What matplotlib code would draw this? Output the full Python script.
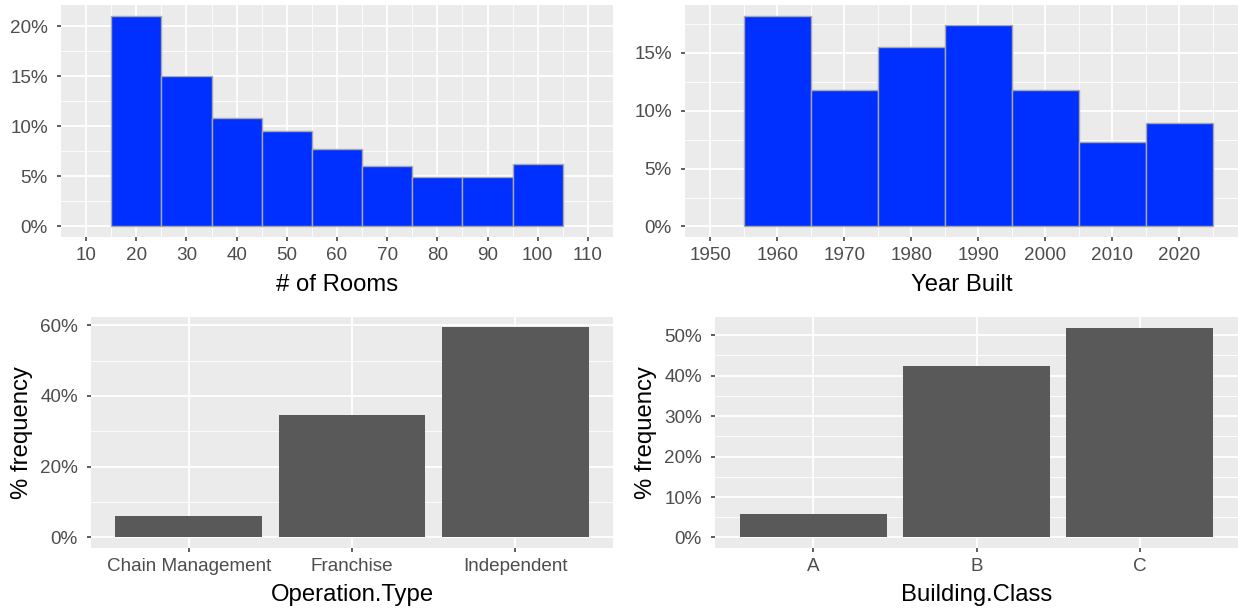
import matplotlib
matplotlib.use("Agg")
import matplotlib.pyplot as plt
from matplotlib.ticker import PercentFormatter, MultipleLocator, FixedLocator

plt.rcParams['font.family'] = ['Liberation Sans', 'DejaVu Sans']

# ---- data (percent of properties) ----
rooms_centers = [20, 30, 40, 50, 60, 70, 80, 90, 100]
rooms_pct = [21.0, 15.0, 10.8, 9.5, 7.7, 6.0, 4.9, 4.9, 6.2]

year_centers = [1960, 1970, 1980, 1990, 2000, 2010, 2020]
year_pct = [18.2, 11.8, 15.5, 17.4, 11.8, 7.3, 8.9]

op_types = ["Chain Management", "Franchise", "Independent"]
op_pct = [6.0, 34.6, 59.4]

bld_classes = ["A", "B", "C"]
bld_pct = [5.7, 42.4, 51.9]

# ---- style ----
PANEL = "#EBEBEB"
BLUE = "#0030FF"
DARK = "#595959"
TICK_TXT = "#4D4D4D"
TICK_SZ = 13.6
TITLE_SZ = 17.2

W, H = 1238, 611
fig = plt.figure(figsize=(W / 100, H / 100), dpi=100)


def box(x0, y0, x1, y1):
    return [x0 / W, 1 - y1 / H, (x1 - x0) / W, (y1 - y0) / H]


def style(ax):
    ax.set_facecolor(PANEL)
    for s in ax.spines.values():
        s.set_visible(False)
    ax.grid(which="major", color="white", linewidth=1.3)
    ax.grid(which="minor", color="white", linewidth=0.6)
    ax.set_axisbelow(True)
    ax.tick_params(which="major", length=3, width=1.1, color="#333333",
                   labelsize=TICK_SZ, labelcolor=TICK_TXT)
    ax.tick_params(axis="x", which="major", pad=4)
    ax.tick_params(axis="y", which="major", pad=6.5)
    ax.tick_params(which="minor", length=0)
    ax.yaxis.set_major_formatter(PercentFormatter(decimals=0))


# Rooms histogram
ax1 = fig.add_axes(box(61, 5, 613, 237))
ax1.bar(rooms_centers, rooms_pct, width=10, color=BLUE, edgecolor="#A8A8A8", linewidth=1.0)
ax1.set_xlim(5, 115)
ax1.set_ylim(-1.05, 22.1)
ax1.xaxis.set_major_locator(MultipleLocator(10))
ax1.xaxis.set_minor_locator(FixedLocator(list(range(15, 115, 10))))
ax1.yaxis.set_major_locator(MultipleLocator(5))
ax1.yaxis.set_minor_locator(FixedLocator([2.5, 7.5, 12.5, 17.5]))
style(ax1)
ax1.set_xlabel("# of Rooms", fontsize=TITLE_SZ, labelpad=7.5)

# Year built histogram
ax2 = fig.add_axes(box(685, 5, 1238, 237))
ax2.bar(year_centers, year_pct, width=10, color=BLUE, edgecolor="#A8A8A8", linewidth=1.0)
ax2.set_xlim(1946.25, 2028.75)
ax2.set_ylim(-0.91, 19.14)
ax2.xaxis.set_major_locator(FixedLocator(list(range(1950, 2030, 10))))
ax2.xaxis.set_minor_locator(FixedLocator(list(range(1955, 2030, 10))))
ax2.yaxis.set_major_locator(FixedLocator([0, 5, 10, 15]))
ax2.yaxis.set_minor_locator(FixedLocator([2.5, 7.5, 12.5, 17.5]))
style(ax2)
ax2.set_xlabel("Year Built", fontsize=TITLE_SZ, labelpad=7.5)

# Operation type
ax3 = fig.add_axes(box(91, 317, 613, 548))
ax3.bar(range(1, len(op_types) + 1), op_pct, width=0.9, color=DARK)
ax3.set_xlim(0.4, 3.6)
ax3.set_ylim(-2.97, 62.3)
ax3.set_xticks(range(1, len(op_types) + 1))
ax3.set_xticklabels(op_types)
ax3.yaxis.set_major_locator(FixedLocator([0, 20, 40, 60]))
ax3.yaxis.set_minor_locator(FixedLocator([10, 30, 50]))
style(ax3)
ax3.set_xlabel("Operation.Type", fontsize=TITLE_SZ, labelpad=7)
ax3.set_ylabel("% frequency", fontsize=TITLE_SZ, labelpad=5)

# Building class
ax4 = fig.add_axes(box(715, 317, 1238, 548))
ax4.bar(range(1, len(bld_classes) + 1), bld_pct, width=0.9, color=DARK)
ax4.set_xlim(0.4, 3.6)
ax4.set_ylim(-2.6, 54.5)
ax4.set_xticks(range(1, len(bld_classes) + 1))
ax4.set_xticklabels(bld_classes)
ax4.yaxis.set_major_locator(FixedLocator([0, 10, 20, 30, 40, 50]))
ax4.yaxis.set_minor_locator(FixedLocator([5, 15, 25, 35, 45]))
style(ax4)
ax4.set_xlabel("Building.Class", fontsize=TITLE_SZ, labelpad=7)
ax4.set_ylabel("% frequency", fontsize=TITLE_SZ, labelpad=5)

fig.savefig("out.png", dpi=100, facecolor="white")
